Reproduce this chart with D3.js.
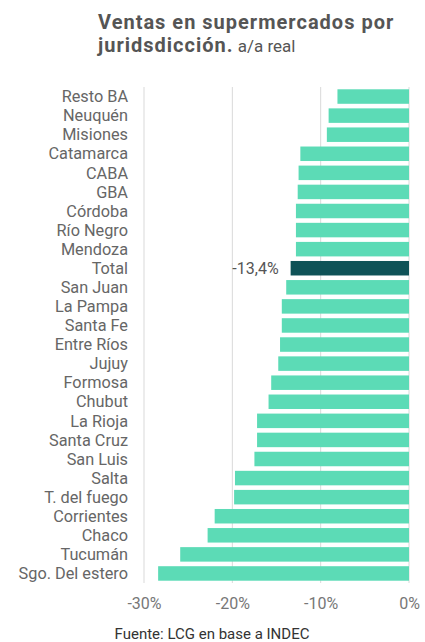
<!DOCTYPE html>
<html>
<head>
<meta charset="utf-8">
<script src="https://cdn.jsdelivr.net/npm/d3@7"></script>
<style>
  body { margin: 0; background: #fff; font-family: Roboto, "Noto Sans", sans-serif; }
</style>
</head>
<body>
<div id="chart"></div>
<script>
const provincias = ["Resto BA", "Neuquén", "Misiones", "Catamarca", "CABA", "GBA", "Córdoba",
    "Río Negro", "Mendoza", "Total", "San Juan", "La Pampa", "Santa Fe", "Entre Ríos", "Jujuy",
    "Formosa", "Chubut", "La Rioja", "Santa Cruz", "San Luis", "Salta", "T. del fuego",
    "Corrientes", "Chaco", "Tucumán", "Sgo. Del estero"];
const variacion = [-8.1, -9.1, -9.3, -12.3, -12.5, -12.6, -12.8, -12.8, -12.8, -13.4, -13.9,
    -14.4, -14.4, -14.6, -14.8, -15.6, -15.9, -17.2, -17.2, -17.5, -19.7, -19.8, -22.0,
    -22.8, -25.9, -28.4];
const ticks = [-30, -20, -10, 0];

const data = provincias.map((p, i) => ({ name: p, value: variacion[i] }));

const width = 425;
const height = 642;
const marginLeft = 144;
const marginRight = 16;
const barsTop = 87;
const barsBottom = 583;

const pct = (v) => String(v).replace(".", ",") + "%";

const x = d3.scaleLinear()
    .domain([-30, 0])
    .range([marginLeft, width - marginRight]);

const y = d3.scaleBand()
    .domain(provincias)
    .range([barsTop, barsBottom])
    .paddingInner(0.24)
    .paddingOuter(0.12);

const svg = d3.select("#chart")
    .append("svg")
    .attr("width", width)
    .attr("height", height)
    .attr("viewBox", [0, 0, width, height]);

// titulo
const title = svg.append("text")
    .attr("fill", "#555")
    .style("font-size", "20px");
title.append("tspan").attr("x", 98).attr("y", 28.5)
    .style("font-weight", "bold")
    .style("letter-spacing", "1px")
    .text("Ventas en supermercados por");
const t2 = title.append("tspan").attr("x", 98).attr("y", 51.5);
t2.append("tspan").style("font-weight", "bold").style("letter-spacing", "1px")
    .text("juridsdicción.");
t2.append("tspan").style("font-size", "17px").text(" a/a real");

// grilla
svg.append("g")
    .selectAll("line")
    .data(ticks)
    .join("line")
    .attr("x1", (d) => x(d))
    .attr("x2", (d) => x(d))
    .attr("y1", barsTop)
    .attr("y2", barsBottom)
    .attr("stroke", "#d9d9d9")
    .attr("stroke-width", 1);

// barras
svg.append("g")
    .selectAll("rect")
    .data(data)
    .join("rect")
    .attr("x", (d) => x(d.value))
    .attr("y", (d) => y(d.name))
    .attr("width", (d) => x(0) - x(d.value))
    .attr("height", y.bandwidth())
    .attr("fill", (d) => d.name === "Total" ? "#0f5257" : "#5cdbb6");

// etiquetas de categoria
svg.append("g")
    .selectAll("text")
    .data(data)
    .join("text")
    .attr("x", 128)
    .attr("y", (d) => y(d.name) + y.bandwidth() / 2)
    .attr("dy", "0.35em")
    .attr("text-anchor", "end")
    .attr("fill", "#666")
    .style("font-size", "16.3px")
    .text((d) => d.name);

// valor del total
const tot = data.find((d) => d.name === "Total");
svg.append("text")
    .attr("x", x(tot.value) - 12)
    .attr("y", y(tot.name) + y.bandwidth() / 2)
    .attr("dy", "0.35em")
    .attr("text-anchor", "end")
    .attr("fill", "#555")
    .style("font-size", "16px")
    .text(pct(tot.value));

// eje x
svg.append("g")
    .attr("transform", `translate(0,${barsBottom})`)
    .call(d3.axisBottom(x).tickValues(ticks).tickSize(0).tickPadding(15)
        .tickFormat((d) => d + "%"))
    .call((g) => g.select(".domain").remove())
    .selectAll("text")
    .attr("fill", "#777")
    .style("font-family", "Roboto, sans-serif")
    .style("font-size", "16px");

// fuente
svg.append("text")
    .attr("x", 212)
    .attr("y", 639)
    .attr("text-anchor", "middle")
    .attr("fill", "#333")
    .style("font-size", "15px")
    .text("Fuente: LCG en base a INDEC");
</script>
</body>
</html>
